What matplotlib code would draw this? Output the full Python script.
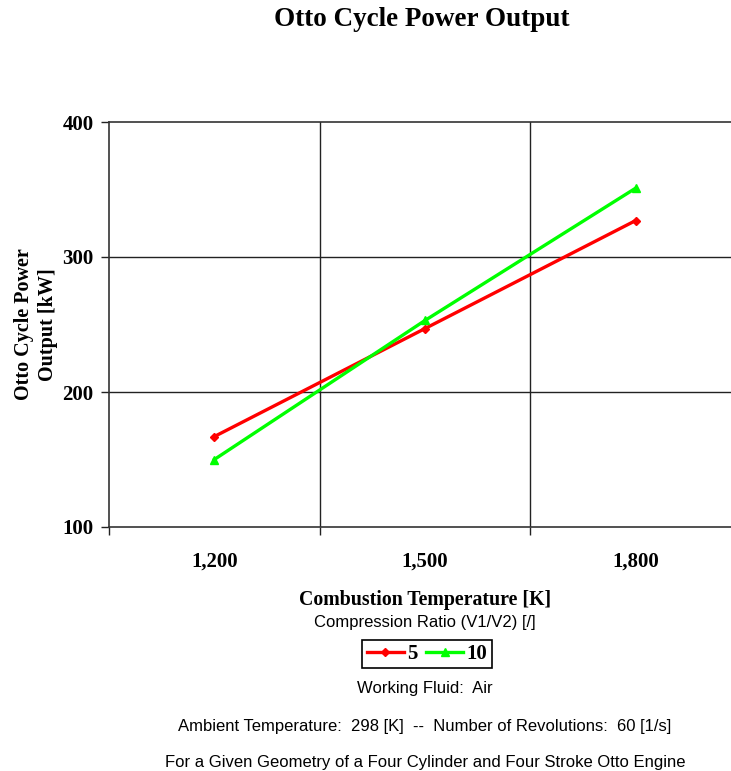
import matplotlib
matplotlib.use("Agg")
from matplotlib import pyplot as plt
from matplotlib.ticker import FixedLocator

# combustion temperature categories [K]
temperatures = ["1,200", "1,500", "1,800"]
# power output [kW] per compression ratio
power_ratio_5 = [167, 247, 327]
power_ratio_10 = [150, 253, 351]
y_ticks = [100, 200, 300, 400]

SERIF = "Liberation Serif"
SANS = "Liberation Sans"


def main():
    fig = plt.figure(figsize=(7.31, 7.71), dpi=100)
    ax = fig.add_axes([109 / 731, 244 / 771, 632 / 731, 405 / 771])

    x = list(range(len(temperatures)))
    ax.plot(x, power_ratio_5, color="#ff0000", lw=2.4, marker="D", ms=4.5, label="5")
    ax.plot(x, power_ratio_10, color="#00ff00", lw=2.4, marker="^", ms=5.5, label="10")

    ax.set_xlim(-0.5, len(temperatures) - 0.5)
    ax.set_ylim(100, 400)
    ax.set_yticks(y_ticks)
    ax.set_yticklabels([str(v) for v in y_ticks], fontfamily=SERIF, fontweight="bold", fontsize=15)
    ax.set_xticks(x)
    ax.set_xticklabels(temperatures, fontfamily=SERIF, fontweight="bold", fontsize=15)
    ax.tick_params(axis="x", which="major", length=0, pad=18)
    ax.xaxis.set_minor_locator(FixedLocator([-0.5, 0.5, 1.5]))
    ax.tick_params(axis="x", which="minor", length=6, width=1, color="#222222")
    ax.tick_params(axis="y", length=6, width=1, color="#222222", pad=5)

    # category separators and value gridlines
    for xv in [0.5, 1.5]:
        ax.axvline(xv, color="#222222", lw=1, zorder=0)
    for yv in [200, 300]:
        ax.axhline(yv, color="#222222", lw=1, zorder=0)
    for s in ax.spines.values():
        s.set_color("#333333")
        s.set_linewidth(1.2)

    ax.set_ylabel("Otto Cycle Power\nOutput [kW]", fontfamily=SERIF, fontweight="bold",
                  fontsize=14.5, labelpad=3.5, linespacing=1.25)
    ax.set_xlabel("Combustion Temperature [K]", fontfamily=SERIF, fontweight="bold",
                  fontsize=14.3, labelpad=13)

    fig.text(422 / 731, 1 - 20 / 771, "Otto Cycle Power Output", ha="center", va="center",
             fontfamily=SERIF, fontweight="bold", fontsize=19.5)

    cx = 425 / 731
    fig.text(cx, 1 - 622 / 771, "Compression Ratio (V1/V2) [/]", ha="center", va="center",
             fontfamily=SANS, fontsize=12)
    fig.text(cx, 1 - 689 / 771, "Working Fluid:  Air", ha="center", va="center",
             fontfamily=SANS, fontsize=12)
    fig.text(cx, 1 - 727 / 771, "Ambient Temperature:  298 [K]  --  Number of Revolutions:  60 [1/s]",
             ha="center", va="center", fontfamily=SANS, fontsize=12)
    fig.text(cx, 1 - 762 / 771, "For a Given Geometry of a Four Cylinder and Four Stroke Otto Engine",
             ha="center", va="center", fontfamily=SANS, fontsize=12)

    leg = fig.legend(loc="center", bbox_to_anchor=(427 / 731, 1 - 654 / 771), ncol=2,
                     prop={"family": SERIF, "weight": "bold", "size": 15},
                     frameon=True, fancybox=False, edgecolor="black", framealpha=1,
                     handlelength=1.8, handletextpad=0.15, columnspacing=0.4,
                     borderpad=0.2, borderaxespad=0)
    leg.get_frame().set_linewidth(1.2)

    fig.savefig("out.png", dpi=100)


if __name__ == "__main__":
    main()
